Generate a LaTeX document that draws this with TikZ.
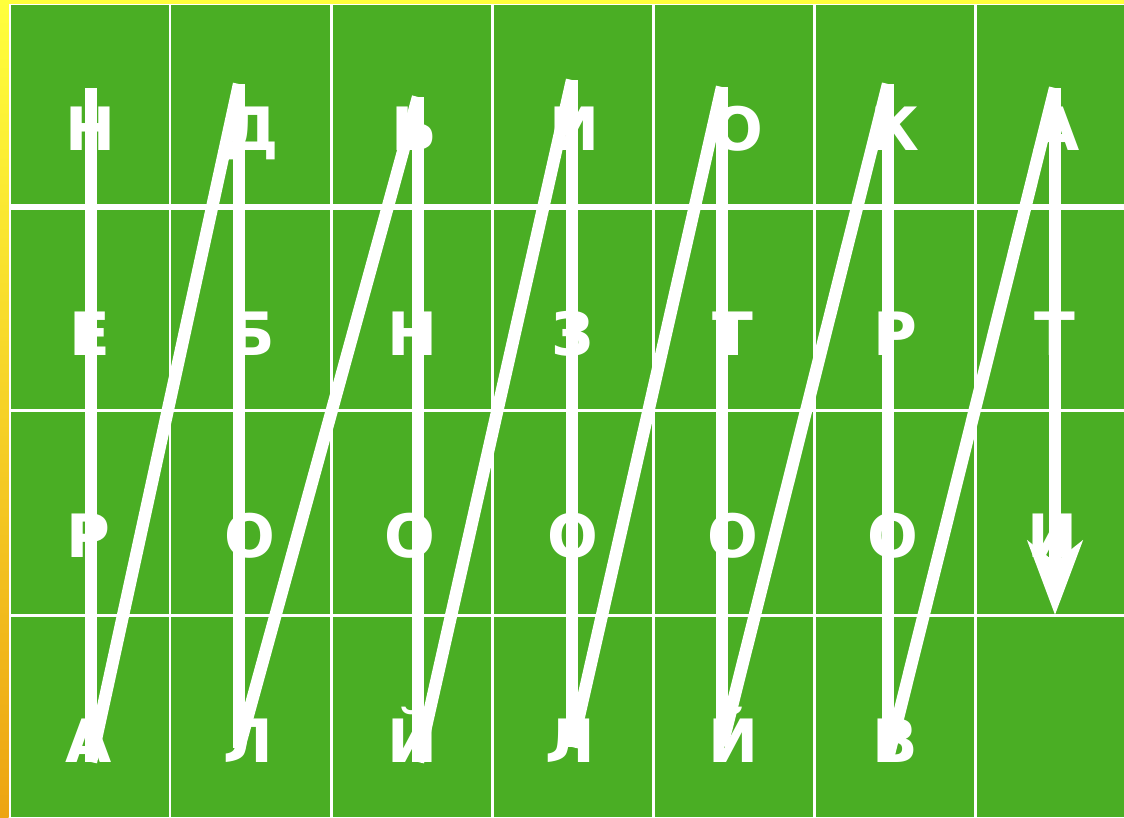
\documentclass[tikz,border=0pt]{standalone}
\usepackage{fontspec}
\setmainfont{DejaVu Sans}
\usepackage{tikz}
\usetikzlibrary{arrows.meta}
\definecolor{BoardGreen}{HTML}{4AAE24}
\definecolor{FrameYellow}{HTML}{FFFF3C}
\definecolor{FrameOrange}{HTML}{EDA412}

\begin{document}
\begin{tikzpicture}[
  x=1cm,y=-1cm,
  line cap=butt,
  every node/.style={font=\fontsize{17}{20}\selectfont\bfseries,
    text=white,inner sep=0pt,anchor=base},
  chalk/.style={draw=white,line width=3.5pt},
  gridline/.style={draw=white,line width=.85pt}
]
  \pgfmathsetmacro{\rowA}{1.50}
  \pgfmathsetmacro{\rowB}{3.55}
  \pgfmathsetmacro{\rowC}{5.57}
  \pgfmathsetmacro{\rowD}{7.62}

  \useasboundingbox (0,0) rectangle (11.24,8.17);
  \fill[FrameYellow] (0,0) rectangle (11.24,0.04);
  \shade[top color=FrameYellow,bottom color=FrameOrange]
    (0,0) rectangle (0.085,8.17);
  \fill[white] (0.085,0.035) rectangle (11.24,8.17);
  \fill[BoardGreen] (0.11,0.05) rectangle (11.24,8.17);

  \draw[gridline] (1.70,0.05) -- (1.70,8.17);
  \draw[gridline] (3.31,0.05) -- (3.31,8.17);
  \draw[gridline] (4.92,0.05) -- (4.92,8.17);
  \draw[gridline] (6.53,0.05) -- (6.53,8.17);
  \draw[gridline] (8.14,0.05) -- (8.14,8.17);
  \draw[gridline] (9.75,0.05) -- (9.75,8.17);
  \draw[gridline,line width=1.9pt] (0.11,2.07) -- (11.24,2.07);
  \draw[gridline] (0.11,4.10) -- (11.24,4.10);
  \draw[gridline] (0.11,6.15) -- (11.24,6.15);

  \node (ra1) at (0.91,\rowA) {Н};
  \node (ra2) at (2.52,\rowA) {Д};
  \node (ra3) at (4.14,\rowA) {Ь};
  \node (ra4) at (5.74,\rowA) {И};
  \node (ra5) at (7.38,\rowA) {О};
  \node (ra6) at (8.95,\rowA) {К};
  \node (ra7) at (10.57,\rowA) {А};

  \node (rb1) at (0.90,\rowB) {Е};
  \node (rb2) at (2.52,\rowB) {Б};
  \node (rb3) at (4.12,\rowB) {Н};
  \node (rb4) at (5.73,\rowB) {З};
  \node (rb5) at (7.33,\rowB) {Т};
  \node (rb6) at (8.95,\rowB) {Р};
  \node (rb7) at (10.55,\rowB) {Т};

  \node (rc1) at (0.88,\rowC) {Р};
  \node (rc2) at (2.50,\rowC) {О};
  \node (rc3) at (4.10,\rowC) {О};
  \node (rc4) at (5.73,\rowC) {О};
  \node (rc5) at (7.33,\rowC) {О};
  \node (rc6) at (8.93,\rowC) {О};
  \node (rc7) at (10.52,\rowC) {И};

  \node (rd1) at (0.89,\rowD) {А};
  \node (rd2) at (2.48,\rowD) {Л};
  \node (rd3) at (4.12,\rowD) {Й};
  \node (rd4) at (5.70,\rowD) {Л};
  \node (rd5) at (7.33,\rowD) {Й};
  \node (rd6) at (8.95,\rowD) {В};

  \coordinate (top1) at (0.91,0.88);
  \coordinate (bot1) at (0.91,7.62);
  \coordinate (top2) at (2.39,0.84);
  \coordinate (bot2) at (2.39,7.48);
  \coordinate (top3) at (4.18,0.97);
  \coordinate (bot3) at (4.18,7.62);
  \coordinate (top4) at (5.72,0.80);
  \coordinate (bot4) at (5.72,7.47);
  \coordinate (top5) at (7.22,0.87);
  \coordinate (bot5) at (7.22,7.46);
  \coordinate (top6) at (8.88,0.84);
  \coordinate (bot6) at (8.88,7.58);
  \coordinate (top7) at (10.55,0.88);
  \coordinate (tip) at (10.55,6.15);

  \draw[chalk] (top1) -- (bot1);
  \draw[chalk] (bot1) -- (top2);
  \draw[chalk] (top2) -- (bot2);
  \draw[chalk] (bot2) -- (top3);
  \draw[chalk] (top3) -- (bot3);
  \draw[chalk] (bot3) -- (top4);
  \draw[chalk] (top4) -- (bot4);
  \draw[chalk] (bot4) -- (top5);
  \draw[chalk] (top5) -- (bot5);
  \draw[chalk] (bot5) -- (top6);
  \draw[chalk] (top6) -- (bot6);
  \draw[chalk] (bot6) -- (top7);
  \draw[chalk,-{Stealth[length=21pt,width=15.5pt,inset=6pt]}]
    (top7) -- (tip);
\end{tikzpicture}
\end{document}
